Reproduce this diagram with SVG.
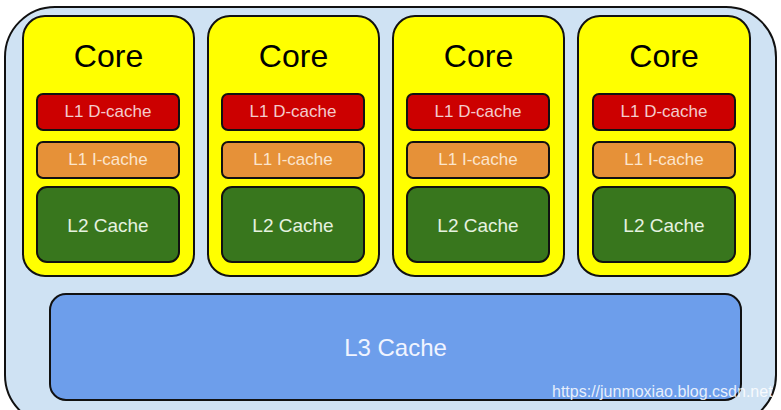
<svg xmlns="http://www.w3.org/2000/svg" width="781" height="410" viewBox="0 0 781 410">
<style>
.outer{fill:#cfe2f3;stroke:#111;stroke-width:2}
.core{fill:#ffff00;stroke:#111;stroke-width:2}
.l1d{fill:#cc0000;stroke:#111;stroke-width:2}
.l1i{fill:#e69138;stroke:#111;stroke-width:2}
.l2{fill:#38761d;stroke:#111;stroke-width:2}
.l3{fill:#6d9eeb;stroke:#111;stroke-width:2}
text{font-family:"Liberation Sans",Arial,sans-serif;text-anchor:middle}
.tc{font-size:32px;fill:#000}
.td{font-size:17px;fill:#f4cccc}
.ti{font-size:17px;fill:#fce5cd}
.t2{font-size:19px;fill:#e6f2e0}
.t3{font-size:24px;fill:#f0f4ff}
.wm{font-size:16px;fill:#ffffff;fill-opacity:0.85;text-anchor:start}
</style>
<rect width="781" height="410" fill="#ffffff"/>
<g id="package">
<rect class="outer" x="5" y="7" width="771" height="418" rx="50"/>
</g>
<g id="connectors"></g>
<g id="core1">
<rect class="core" x="23" y="16" width="171" height="260" rx="22"/>
<text class="tc" x="108.5" y="67">Core</text>
<rect class="l1d" x="37" y="94" width="142" height="36" rx="6"/>
<text class="td" x="108" y="117">L1 D-cache</text>
<rect class="l1i" x="37" y="142" width="142" height="36" rx="6"/>
<text class="ti" x="108" y="165">L1 I-cache</text>
<rect class="l2" x="37" y="187" width="142" height="75" rx="10"/>
<text class="t2" x="108" y="232">L2 Cache</text>
</g>
<g id="core2">
<rect class="core" x="208" y="16" width="171" height="260" rx="22"/>
<text class="tc" x="293.5" y="67">Core</text>
<rect class="l1d" x="222" y="94" width="142" height="36" rx="6"/>
<text class="td" x="293" y="117">L1 D-cache</text>
<rect class="l1i" x="222" y="142" width="142" height="36" rx="6"/>
<text class="ti" x="293" y="165">L1 I-cache</text>
<rect class="l2" x="222" y="187" width="142" height="75" rx="10"/>
<text class="t2" x="293" y="232">L2 Cache</text>
</g>
<g id="core3">
<rect class="core" x="393" y="16" width="171" height="260" rx="22"/>
<text class="tc" x="478.5" y="67">Core</text>
<rect class="l1d" x="407" y="94" width="142" height="36" rx="6"/>
<text class="td" x="478" y="117">L1 D-cache</text>
<rect class="l1i" x="407" y="142" width="142" height="36" rx="6"/>
<text class="ti" x="478" y="165">L1 I-cache</text>
<rect class="l2" x="407" y="187" width="142" height="75" rx="10"/>
<text class="t2" x="478" y="232">L2 Cache</text>
</g>
<g id="core4">
<rect class="core" x="578" y="16" width="172" height="260" rx="22"/>
<text class="tc" x="664" y="67">Core</text>
<rect class="l1d" x="593" y="94" width="142" height="36" rx="6"/>
<text class="td" x="664" y="117">L1 D-cache</text>
<rect class="l1i" x="593" y="142" width="142" height="36" rx="6"/>
<text class="ti" x="664" y="165">L1 I-cache</text>
<rect class="l2" x="593" y="187" width="142" height="75" rx="10"/>
<text class="t2" x="664" y="232">L2 Cache</text>
</g>
<g id="l3">
<rect class="l3" x="50" y="294" width="691" height="106" rx="16"/>
<text class="t3" x="395.5" y="356">L3 Cache</text>
</g>
<text class="wm" x="552" y="397">https://junmoxiao.blog.csdn.net</text>
</svg>
